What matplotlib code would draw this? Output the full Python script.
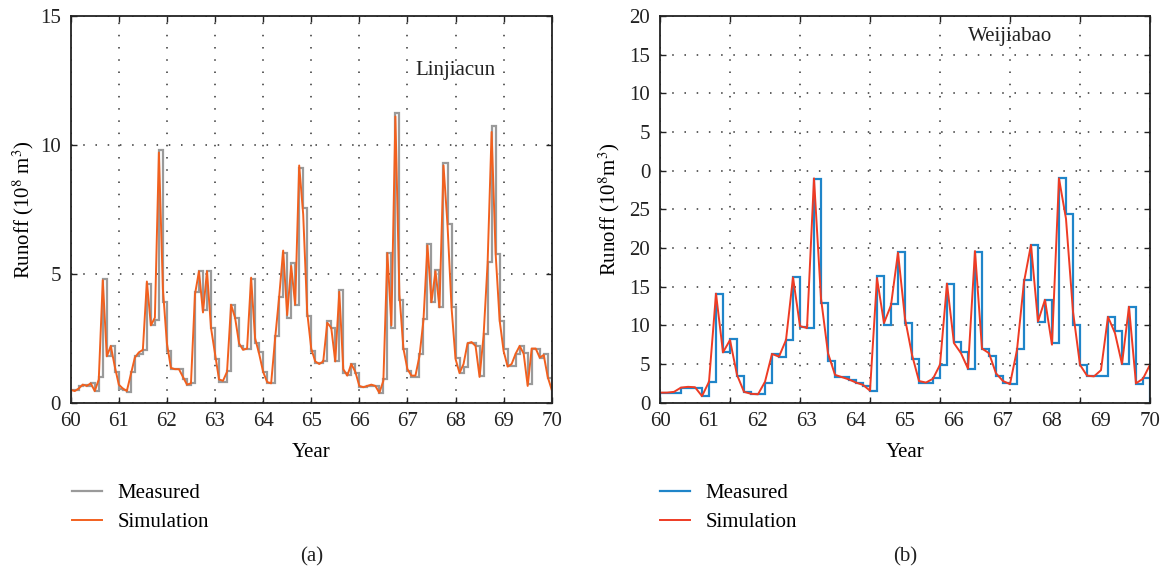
import numpy as np
import matplotlib.pyplot as plt

plt.rcParams['font.family'] = ['Liberation Serif', 'DejaVu Serif']
plt.rcParams['mathtext.fontset'] = 'stix'

# Linjiacun, monthly values 1960-1969 (10^8 m^3)
lin_measured = [0.5, 0.5, 0.65, 0.7, 0.65, 0.75, 0.45, 1.0, 4.8, 1.8, 2.2, 1.2,
                0.55, 0.5, 0.4, 1.2, 1.8, 1.9, 2.05, 4.6, 3.0, 3.2, 9.8, 3.9,
                2.0, 1.3, 1.3, 1.3, 0.9, 0.7, 0.75, 4.3, 5.1, 3.6, 5.1, 2.9,
                1.7, 0.8, 0.8, 1.24, 3.8, 3.3, 2.2, 2.07, 2.07, 4.8, 2.3, 1.95,
                1.2, 0.75, 0.75, 2.6, 4.1, 5.8, 3.27, 5.43, 3.8, 9.1, 7.57, 3.38,
                2.0, 1.53, 1.53, 1.6, 3.18, 2.9, 1.63, 4.37, 1.16, 1.07, 1.49, 1.16,
                0.62, 0.62, 0.65, 0.65, 0.65, 0.39, 0.9, 5.82, 2.9, 11.23, 4.0, 2.1,
                1.24, 1.0, 1.0, 1.9, 3.23, 6.16, 3.92, 5.15, 3.7, 9.31, 6.92, 3.73,
                1.75, 1.14, 1.4, 2.33, 2.33, 2.2, 1.03, 2.65, 5.45, 10.75, 5.76, 3.17,
                2.07, 1.42, 1.42, 1.89, 2.21, 1.94, 0.72, 2.1, 2.1, 1.72, 1.88, 0.97]
lin_simulation = [0.5, 0.45, 0.55, 0.7, 0.65, 0.75, 0.45, 0.9, 4.75, 1.8, 2.2, 1.4,
                  0.7, 0.55, 0.45, 1.1, 1.75, 1.95, 2.05, 4.7, 3.0, 3.3, 9.7, 4.4,
                  2.3, 1.35, 1.3, 1.3, 1.0, 0.7, 0.75, 4.2, 5.1, 3.5, 5.1, 2.9,
                  1.9, 0.9, 0.85, 1.2, 3.8, 3.3, 2.3, 2.05, 2.1, 4.85, 2.5, 1.9,
                  1.2, 0.8, 0.75, 2.5, 4.1, 5.9, 3.4, 5.3, 3.8, 9.2, 7.3, 3.5,
                  2.1, 1.6, 1.5, 1.6, 3.1, 2.9, 1.6, 4.3, 1.3, 1.05, 1.5, 1.2,
                  0.65, 0.6, 0.65, 0.7, 0.65, 0.38, 0.85, 5.8, 3.0, 11.1, 4.2, 2.1,
                  1.3, 1.05, 1.05, 1.8, 3.2, 6.1, 3.9, 5.1, 3.7, 9.2, 6.9, 3.7,
                  1.7, 1.15, 1.5, 2.3, 2.35, 2.2, 1.0, 2.6, 5.4, 10.5, 5.8, 3.2,
                  2.0, 1.4, 1.5, 1.9, 2.2, 1.9, 0.65, 2.1, 2.1, 1.75, 1.85, 1.0,
                  0.5]

# Weijiabao, 70 periods
wei_measured = [1.3, 1.3, 1.3, 1.95, 1.95, 1.95, 0.86, 2.7, 14.0, 6.5,
                8.2, 3.5, 1.34, 1.08, 1.08, 2.6, 6.3, 5.95, 8.1, 16.2,
                9.8, 9.65, 28.9, 12.9, 5.4, 3.3, 3.3, 2.9, 2.6, 2.2,
                1.55, 16.4, 10.1, 12.8, 19.5, 10.3, 5.6, 2.6, 2.6, 3.15,
                4.9, 15.3, 7.8, 6.6, 4.4, 19.5, 7.0, 6.1, 3.5, 2.5,
                2.4, 7.0, 15.8, 20.4, 10.4, 13.3, 7.7, 29.1, 24.35, 10.0,
                4.9, 3.4, 3.4, 3.5, 11.1, 9.3, 5.0, 12.4, 2.4, 3.15]
wei_simulation = [1.3, 1.3, 1.4, 1.95, 2.05, 2.0, 0.85, 2.7, 14.1, 6.5,
                  8.1, 3.6, 1.4, 1.15, 1.08, 2.7, 6.3, 5.95, 8.1, 16.2,
                  9.9, 9.65, 29.0, 13.5, 6.4, 3.6, 3.3, 3.0, 2.6, 2.3,
                  1.55, 16.1, 10.3, 12.6, 19.4, 10.9, 6.2, 2.8, 2.6, 3.1,
                  4.9, 15.4, 7.7, 6.4, 4.4, 19.6, 7.0, 6.4, 3.8, 2.8,
                  2.4, 6.8, 15.6, 20.4, 10.5, 13.3, 7.5, 29.0, 23.8, 11.8,
                  4.9, 3.5, 3.4, 4.2, 11.1, 9.0, 5.0, 12.4, 2.5, 3.1, 4.9]

year_labels = ['60', '61', '62', '63', '64', '65', '66', '67', '68', '69', '70']
wei_ytick_labels = ['0', '5', '10', '15', '20', '25', '0', '5', '10', '15', '20']

FS = 15
grid_style = dict(linestyle=(0, (1, 7)), color='#333333', linewidth=1.1)

fig = plt.figure(figsize=(11.63, 5.76), dpi=100)
ax1 = fig.add_axes([0.0608, 0.3009, 0.4136, 0.6714])
ax2 = fig.add_axes([0.5675, 0.3009, 0.4213, 0.6714])

# (a) Linjiacun
months = 60 + np.arange(len(lin_measured) + 1) / 12
ax1.stairs(lin_measured, months, color='#9a9a9a', lw=1.6, label='Measured')
ax1.plot(months, lin_simulation, color='#f2601e', lw=1.4, label='Simulation')
ax1.set_xlim(60, 70)
ax1.set_ylim(0, 15)
ax1.set_xticks(np.arange(60, 71), labels=year_labels)
ax1.set_yticks([0, 5, 10, 15])
ax1.grid(True, **grid_style)
ax1.text(68.0, 12.87, 'Linjiacun', fontsize=FS, ha='center', va='center', color='#222222')
ax1.set_ylabel('Runoff (10$^{8}$ m$^{3}$)', fontsize=FS, labelpad=3)

# (b) Weijiabao
t = np.arange(len(wei_measured) + 1)
ax2.stairs(wei_measured, t, color='#1f85c9', lw=1.6, label='Measured')
ax2.plot(t, wei_simulation, color='#ee3b24', lw=1.4, label='Simulation')
ax2.set_xlim(0, 70)
ax2.set_ylim(0, 50)
ax2.xaxis.remove_overlapping_locs = False
ax2.set_xticks(np.arange(0, 71, 10), labels=[])
ax2.set_xticks(np.arange(0, 71, 7), labels=year_labels, minor=True)
ax2.set_yticks(np.arange(0, 51, 5), labels=wei_ytick_labels)
ax2.tick_params(axis='x', which='minor', length=0, pad=7)
ax2.grid(True, which='major', **grid_style)
ax2.text(49.96, 47.3, 'Weijiabao', fontsize=FS, ha='center', va='center', color='#222222')
ax2.set_ylabel('Runoff (10$^{8}$m$^{3}$)', fontsize=FS, labelpad=5)

for ax, tag, lx in [(ax1, '(a)', 0.0619), (ax2, '(b)', 0.5675)]:
    ax.set_xlabel('Year', fontsize=FS, labelpad=8)
    ax.tick_params(which='major', direction='in', top=True, right=True, length=4,
                   width=1, labelsize=FS, pad=7, colors='#222222')
    for s in ax.spines.values():
        s.set_linewidth(1.3)
        s.set_color('#222222')
    ax.set_axisbelow(True)
    ax.legend(loc='upper left', bbox_to_anchor=(lx, 0.160), bbox_transform=fig.transFigure,
              frameon=False, fontsize=FS, handlelength=1.45, handletextpad=0.75,
              labelspacing=0.45, borderaxespad=0, borderpad=0)
    fig.text(ax.get_position().x0 + ax.get_position().width / 2, 0.034, tag,
             fontsize=FS, ha='center', va='center', color='#222222')

ax2.tick_params(axis='x', which='minor', labelsize=FS, colors='#222222')

fig.savefig('out.png', dpi=100)
